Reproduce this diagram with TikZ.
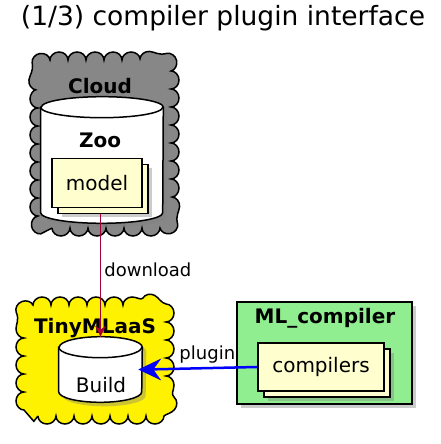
\documentclass[tikz,border=0pt]{standalone}
\usepackage{fontspec}
\setmainfont{DejaVu Sans}
\usetikzlibrary{positioning,shapes,arrows.meta,shadows,decorations.pathmorphing}
\definecolor{umlcloud}{HTML}{878787}
\definecolor{umlnote}{HTML}{FEFECE}
\definecolor{umlgreen}{HTML}{90EE90}
\definecolor{umlred}{HTML}{A80036}
% database drum around a node: name, x radius, y radius
\newcommand{\drum}[3]{%
  \path[dbline,fill=white,boxshadow] ([yshift=-#3]#1.north west)
    -- ([yshift=#3]#1.south west)
    arc[start angle=180,end angle=360,x radius=#2,y radius=#3]
    -- ([yshift=-#3]#1.north east)
    arc[start angle=0,end angle=180,x radius=#2,y radius=#3] -- cycle;
  \draw[dbline] ([yshift=-#3]#1.north west)
    arc[start angle=180,end angle=360,x radius=#2,y radius=#3];}

\begin{document}
\begin{tikzpicture}[x=1pt,y=1pt,semithick,
                    font=\fontsize{20}{24}\selectfont]
  \tikzstyle{boxshadow}=[drop shadow={shadow xshift=4pt,shadow yshift=-4pt,opacity=0.4}]
  \tikzstyle{cloudy}=[draw,line width=1.5pt,decorate,
                      decoration={bumps,mirror,segment length=36pt,amplitude=8pt}]
  \tikzstyle{dbline}=[draw,line width=1.5pt]
  \tikzstyle{item}=[draw,line width=1.5pt,fill=umlnote,inner sep=0pt]
  \tikzstyle{boxname}=[font=\bfseries\fontsize{20}{24}\selectfont]
  \tikzstyle{tag}=[black,font=\fontsize{18}{22}\selectfont]

  \useasboundingbox (0,0) rectangle (441,444);
  \node (head) at (223,426) {\fontsize{26.5}{30}\selectfont (1/3) compiler plugin interface};

  % Cloud with the Zoo
  \path[cloudy,fill=umlcloud] (52,216) -- (157,216)
    arc[start angle=-90,end angle=0,radius=14] -- (171,370)
    arc[start angle=0,end angle=90,radius=14] -- (52,384)
    arc[start angle=90,end angle=180,radius=14] -- (38,230)
    arc[start angle=180,end angle=270,radius=14] -- cycle;
  \node[boxname] (cloudname) at (100,358) {Cloud};
  \node[minimum width=122pt,minimum height=126pt] (zoo) at (102,284) {};
  \drum{zoo}{61pt}{10.5pt}
  \node[boxname] (zooname) at (100,304) {Zoo};
  \node[item,boxshadow,minimum width=90pt,minimum height=49pt] (modelback) at (103,255) {};
  \node[item,minimum width=90pt,minimum height=49pt] (model) at (97,261) {model};

  % TinyMLaaS with Build
  \path[cloudy,fill=yellow] (38,28) -- (152,28)
    arc[start angle=-90,end angle=0,radius=14] -- (166,125)
    arc[start angle=0,end angle=90,radius=14] -- (38,139)
    arc[start angle=90,end angle=180,radius=14] -- (24,42)
    arc[start angle=180,end angle=270,radius=14] -- cycle;
  \node[boxname] (tinyname) at (95,116) {TinyMLaaS};
  \node[minimum width=83pt,minimum height=65pt] (build) at (100.5,74.5) {};
  \drum{build}{41.5pt}{10.5pt}
  \node (buildname) at (101,59) {Build};

  % ML_compiler
  \node[draw,line width=1.5pt,fill=umlgreen,boxshadow,minimum width=175pt,
        minimum height=102pt] (mlc) at (324.5,91) {};
  \node[boxname] (mlcname) at (325,126) {ML\_compiler};
  \node[item,boxshadow,minimum width=126pt,minimum height=48pt] (compback) at (327,71) {};
  \node[item,minimum width=126pt,minimum height=48pt] (compilers) at (321,77) {compilers};

  % connectors, heads drawn as notched wedges
  \draw[umlred,line width=1pt]
    (modelback.south -| build.north) -- node [right,pos=0.45,tag] {download} (build.north);
  \fill[umlred] (build.north) -- ++(-5.5pt,11pt) -- ++(5.5pt,-4pt) -- ++(5.5pt,4pt) -- cycle;
  \draw[blue,line width=2.5pt]
    (compilers.west) -- node [above,pos=0.45,tag] {plugin} ([xshift=4pt]build.east);
  \fill[blue] ([xshift=-4pt]build.east) -- ++(23pt,11pt) -- ++(-8pt,-11pt)
    -- ++(8pt,-11pt) -- cycle;
\end{tikzpicture}
\end{document}
